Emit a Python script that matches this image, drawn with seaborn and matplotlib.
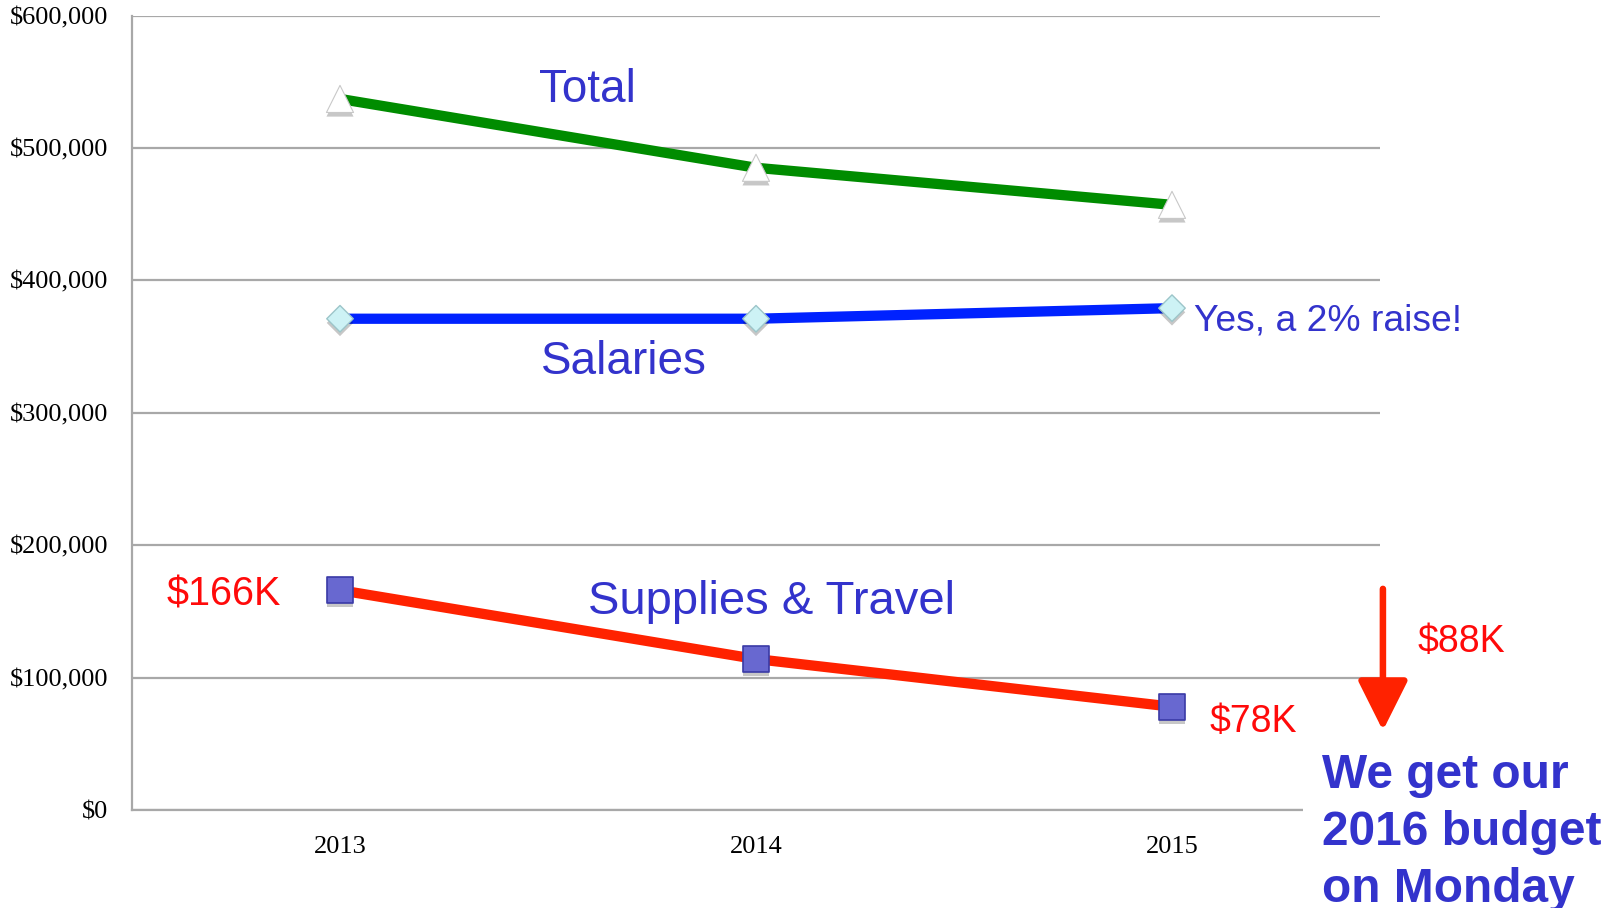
import matplotlib
matplotlib.use("Agg")
import matplotlib.pyplot as plt
import matplotlib.patheffects as pe
from matplotlib.patches import Rectangle
import seaborn as sns
import pandas as pd

# ---- data ----
years = ["2013", "2014", "2015"]
total = [537000, 485000, 457000]
salaries = [371000, 371000, 379000]
supplies = [166000, 114000, 78000]
y_ticks = [0, 100000, 200000, 300000, 400000, 500000, 600000]
y_tick_labels = ["$0", "$100,000", "$200,000", "$300,000", "$400,000", "$500,000", "$600,000"]
series_names = ["Total", "Salaries", "Supplies & Travel"]

sns.set_style("white")
plt.rcParams["font.family"] = ["Liberation Sans", "DejaVu Sans"]

W, H = 1610, 908
fig = plt.figure(figsize=(W / 100, H / 100), dpi=100)
ax = fig.add_axes([132 / W, 1 - 810 / H, (1380 - 132) / W, (810 - 15.5) / H])

pos = list(range(len(years)))
df = pd.DataFrame({
    "x": pos * 3,
    "value": total + salaries + supplies,
    "series": [series_names[0]] * 3 + [series_names[1]] * 3 + [series_names[2]] * 3,
})

line_colors = {"Total": "#008C00", "Salaries": "#0022FF", "Supplies & Travel": "#FF2200"}
sns.lineplot(data=df, x="x", y="value", hue="series", palette=line_colors,
             linewidth=7.4, legend=False, sort=False, ax=ax, zorder=3)

shadow = [pe.SimplePatchShadow(offset=(0, -3), alpha=0.22, shadow_rgbFace="black"), pe.Normal()]
marker_styles = {
    "Total": dict(marker="^", s=19.5 ** 2, color="white", edgecolor="#c8c8c8", linewidth=0.8),
    "Salaries": dict(marker="D", s=13.5 ** 2, color="#CDF2F5", edgecolor="#9cc5c9", linewidth=1.0),
    "Supplies & Travel": dict(marker="s", s=18.5 ** 2, color="#6868D0", edgecolor="#3A3AA6", linewidth=1.2),
}
for name in series_names:
    sub = df[df["series"] == name]
    sns.scatterplot(x=sub["x"], y=sub["value"], ax=ax, zorder=5, legend=False,
                    path_effects=shadow, **marker_styles[name])

grid_col = "#a8a8a8"
ax.set_xlim(-0.5, 2.5)
ax.set_ylim(0, 600000)
ax.yaxis.grid(True, color=grid_col, linewidth=1.6, zorder=0)
ax.set_axisbelow(True)
for s in ["top", "right"]:
    ax.spines[s].set_visible(False)
for s in ["left", "bottom"]:
    ax.spines[s].set_color(grid_col)
    ax.spines[s].set_linewidth(1.6)

tick_font = dict(family="Liberation Serif", size=19, color="black")
ax.set_yticks(y_ticks)
ax.set_yticklabels(y_tick_labels, fontdict=tick_font)
ax.set_xticks(pos)
ax.set_xticklabels(years, fontdict=tick_font)
ax.set_xticks([-0.5, 0.5, 1.5, 2.5], minor=True)
ax.tick_params(axis="x", which="major", length=0, pad=19)
ax.tick_params(axis="x", which="minor", length=7, width=1.6, color=grid_col, direction="out")
ax.tick_params(axis="y", which="major", length=7, width=1.6, color=grid_col, direction="out", pad=10)
ax.set_xlabel("")
ax.set_ylabel("")

blue_txt = "#3333CC"
red_txt = "#FF0A0A"
ax.text(0.596, 544000, "Total", color=blue_txt, fontsize=33, ha="center", va="center")
ax.text(0.683, 338000, "Salaries", color=blue_txt, fontsize=33, ha="center", va="center")
ax.text(1.038, 157000, "Supplies & Travel", color=blue_txt, fontsize=34, ha="center", va="center")
ax.text(2.053, 369500, "Yes, a 2% raise!", color=blue_txt, fontsize=26.8, ha="left", va="center",
        clip_on=False)
ax.text(-0.279, 163000, "$166K", color=red_txt, fontsize=28.5, ha="center", va="center")
ax.text(2.091, 66500, "$78K", color=red_txt, fontsize=27, ha="left", va="center", clip_on=False)
ax.text(2.591, 127000, "$88K", color=red_txt, fontsize=27, ha="left", va="center", clip_on=False)

ax.annotate("", xy=(2.507, 60000), xytext=(2.507, 167000), annotation_clip=False,
            arrowprops=dict(arrowstyle="-|>,head_length=1.1,head_width=0.55", color="#FF2200",
                            lw=4.7, mutation_scale=28, shrinkA=0, shrinkB=0))

# white box under the note text (covers the axis line end)
fig.add_artist(Rectangle((1303 / W, 0), 1 - 1303 / W, (H - 740) / H,
                         transform=fig.transFigure, facecolor="white", edgecolor="none", zorder=5))
note_lines = ["We get our", "2016 budget", "on Monday"]
for line, base in zip(note_lines, [788, 845, 902]):
    fig.text(1322 / W, 1 - base / H, line, color=blue_txt, fontsize=34.5, fontweight="bold",
             ha="left", va="baseline", zorder=6)

fig.savefig("out.png", dpi=100, facecolor="white")
